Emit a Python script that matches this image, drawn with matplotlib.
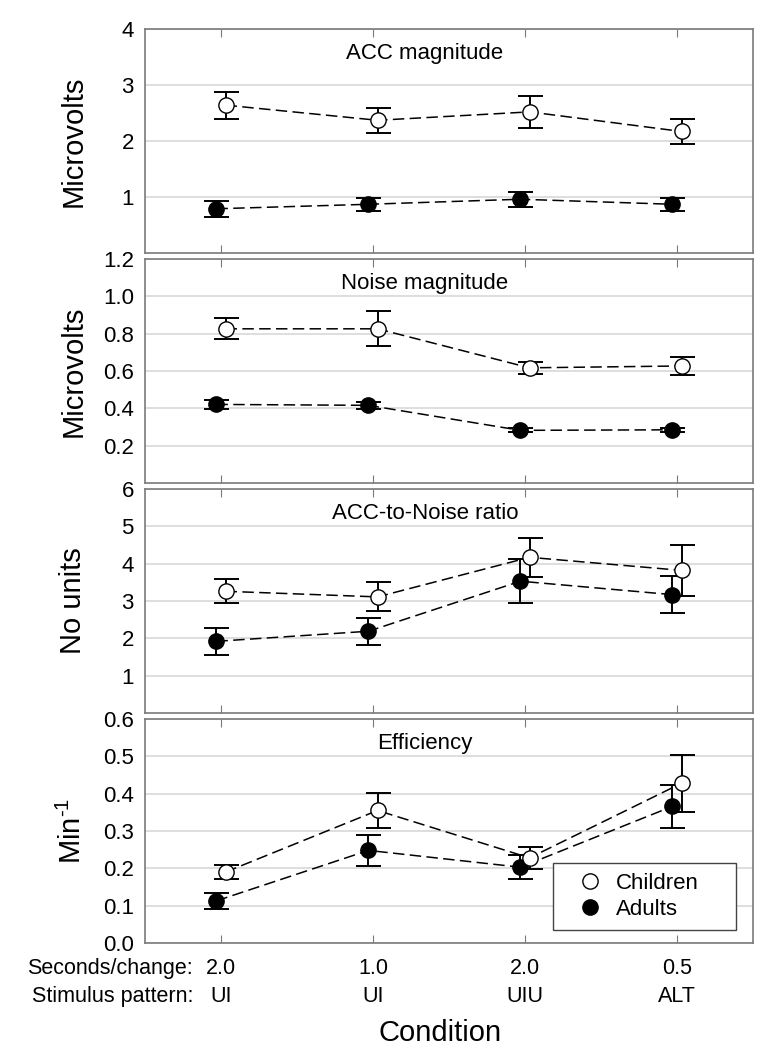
import matplotlib
matplotlib.use("Agg")
import matplotlib.pyplot as plt
from matplotlib.lines import Line2D
from matplotlib.patches import Rectangle

plt.rcParams['font.family'] = ['Liberation Sans', 'DejaVu Sans']
plt.rcParams['mathtext.fontset'] = 'custom'
plt.rcParams['mathtext.rm'] = 'Liberation Sans'
plt.rcParams['mathtext.it'] = 'Liberation Sans'

# conditions
conds = [1, 2, 3, 4]
secs = ["2.0", "1.0", "2.0", "0.5"]
patterns = ["UI", "UI", "UIU", "ALT"]

# ACC magnitude
accChild = [2.64, 2.37, 2.52, 2.17]
accChildErr = [0.24, 0.22, 0.29, 0.22]
accAdult = [0.79, 0.87, 0.96, 0.87]
accAdultErr = [0.14, 0.12, 0.13, 0.12]

# Noise magnitude
noiseChild = [0.826, 0.826, 0.617, 0.627]
noiseChildErr = [0.056, 0.093, 0.033, 0.049]
noiseAdult = [0.421, 0.416, 0.282, 0.285]
noiseAdultErr = [0.022, 0.02, 0.01, 0.012]

# ACC-to-Noise ratio
ratioChild = [3.26, 3.11, 4.17, 3.82]
ratioChildErr = [0.32, 0.39, 0.53, 0.69]
ratioAdult = [1.92, 2.19, 3.53, 3.17]
ratioAdultErr = [0.37, 0.36, 0.59, 0.5]

# Efficiency
effChild = [0.190, 0.355, 0.228, 0.428]
effChildErr = [0.018, 0.046, 0.029, 0.076]
effAdult = [0.113, 0.248, 0.203, 0.366]
effAdultErr = [0.022, 0.042, 0.032, 0.057]

panels = [
    ("ACC magnitude", "Microvolts", 4, [1, 2, 3, 4], "%d",
     accChild, accChildErr, accAdult, accAdultErr),
    ("Noise magnitude", "Microvolts", 1.2, [0.2, 0.4, 0.6, 0.8, 1.0, 1.2], "%.1f",
     noiseChild, noiseChildErr, noiseAdult, noiseAdultErr),
    ("ACC-to-Noise ratio", "No units", 6, [1, 2, 3, 4, 5, 6], "%d",
     ratioChild, ratioChildErr, ratioAdult, ratioAdultErr),
    ("Efficiency", r"Min$^{\text{-1}}$", 0.6, [0.0, 0.1, 0.2, 0.3, 0.4, 0.5, 0.6], "%.1f",
     effChild, effChildErr, effAdult, effAdultErr),
]

W, H = 773, 1050
fig = plt.figure(figsize=(W / 100, H / 100), dpi=100)

left, width, height = 145, 608, 224
tops = [29, 259, 489, 719]
offset = 0.03
spineColor = "#7a7a7a"

for (title, ylab, ymax, yticks, fmt, ch, chErr, ad, adErr), top in zip(panels, tops):
    ax = fig.add_axes([left / W, 1 - (top + height) / H, width / W, height / H])
    ax.set_xlim(0.5, 4.5)
    ax.set_ylim(0, ymax)

    xa = [c - offset for c in conds]
    xc = [c + offset for c in conds]

    for xs, ys, es, face in [(xa, ad, adErr, "black"), (xc, ch, chErr, "white")]:
        ax.errorbar(xs, ys, yerr=es, fmt="none", ecolor="black", elinewidth=1.4,
                    capsize=9, capthick=1.4, zorder=3)
        ax.plot(xs, ys, color="black", lw=1.1, dashes=(7.5, 3.5), marker="o",
                markersize=11, markerfacecolor=face, markeredgecolor="black",
                markeredgewidth=1.0, zorder=4)

    ax.set_yticks(yticks)
    ax.set_yticklabels([fmt % t for t in yticks])
    ax.yaxis.grid(True, color="#d4d4d4", lw=1.1)
    ax.set_axisbelow(True)
    ax.tick_params(axis="y", length=0, pad=8, labelsize=16)
    ax.set_xticks(conds)
    ax.tick_params(axis="x", direction="in", top=True, bottom=True, length=6,
                   color=spineColor, labelbottom=False)
    for sp in ax.spines.values():
        sp.set_color(spineColor)
        sp.set_linewidth(1.2)

    ax.text(0.4605, 0.864, title, transform=ax.transAxes, ha="center",
            va="baseline", fontsize=16)
    ax.set_ylabel(ylab, fontsize=21)
    ax.yaxis.set_label_coords(-0.095, 0.5)

# bottom labels for the last panel
trans = ax.get_xaxis_transform()
for c, s, p in zip(conds, secs, patterns):
    ax.text(c, -0.112, s, transform=trans, ha="center", va="center", fontsize=15.5)
    ax.text(c, -0.241, p, transform=trans, ha="center", va="center", fontsize=15.5)
ax.text(0.079, -0.112, "Seconds/change:", transform=ax.transAxes, ha="right",
        va="center", fontsize=15.5, clip_on=False)
ax.text(0.079, -0.241, "Stimulus pattern:", transform=ax.transAxes, ha="right",
        va="center", fontsize=15.5, clip_on=False)
ax.text(0.485, -0.40, "Condition", transform=ax.transAxes, ha="center",
        va="center", fontsize=21)

# legend box
ax.add_patch(Rectangle((0.671, 0.058), 0.301, 0.299, transform=ax.transAxes,
                       facecolor="white", edgecolor="#444444", lw=1.0, zorder=9))
handles = [
    Line2D([], [], ls="none", marker="o", markersize=11, markerfacecolor="white",
           markeredgecolor="black", markeredgewidth=1.0, label="Children"),
    Line2D([], [], ls="none", marker="o", markersize=11, markerfacecolor="black",
           markeredgecolor="black", label="Adults"),
]
leg = ax.legend(handles=handles, loc="center left", bbox_to_anchor=(0.7105, 0.2076),
                borderaxespad=0, borderpad=0, frameon=False, fontsize=16,
                handletextpad=0.55, labelspacing=0.25, handlelength=1.2)
leg.set_zorder(10)

fig.savefig("out.png", dpi=100)
